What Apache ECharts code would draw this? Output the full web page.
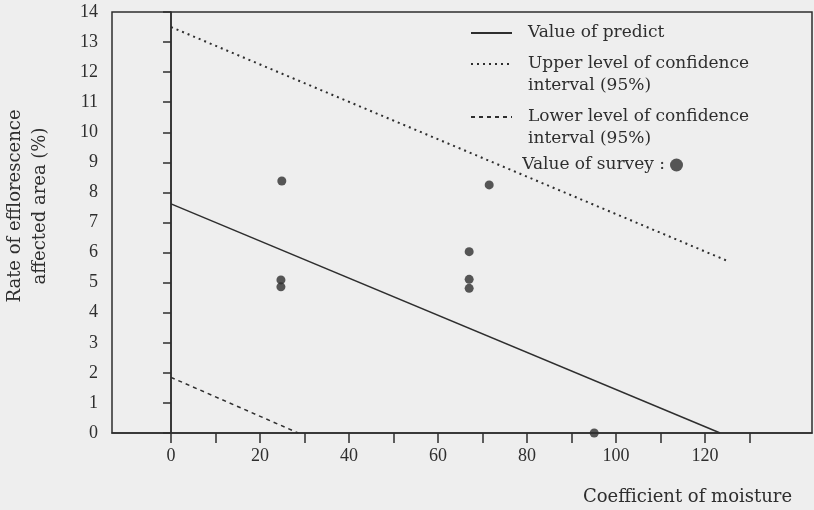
<!DOCTYPE html>
<html>
<head>
<meta charset="utf-8">
<script src="https://cdn.jsdelivr.net/npm/echarts@6/dist/echarts.min.js"></script>
<style>
  html, body { margin: 0; padding: 0; background: #eeeeee; }
  #chart { width: 814px; height: 510px; }
</style>
</head>
<body>
<div id="chart"></div>
<script>
// values
const predictLine = [[0, 7.62], [123.4, 0]];
const upperLine = [[0, 13.5], [125.4, 5.70]];
const lowerLine = [[0, 1.85], [28.6, 0]];
const surveyX = [24.9, 24.7, 24.7, 71.5, 67.0, 67.0, 67.0, 95.1];
const surveyY = [8.38, 5.09, 4.86, 8.25, 6.03, 5.11, 4.81, 0];
const xTickValues = [0, 10, 20, 30, 40, 50, 60, 70, 80, 90, 100, 110, 120, 130];
const xLabelValues = [0, 20, 40, 60, 80, 100, 120];

const ink = '#2e2e2e';
const serif = 'DejaVu Serif';

let myChart = echarts.init(document.getElementById('chart'));

// legend rows, one component each so every row sits where it does in the figure
function lineLegend(name, top) {
    let twoLines = name.indexOf('\n') >= 0
    return {
        data: [name],
        left: 470,
        top: top,
        padding: 0,
        orient: 'vertical',
        selectedMode: false,
        itemWidth: 41,
        itemHeight: 22,
        // hide the symbol drawn on the line icon
        itemStyle: { color: 'transparent', borderWidth: 0, opacity: 0 },
        // blank line on top so the icon lines up with the first text line
        formatter: function (n) { return twoLines ? '\n' + n : n },
        textStyle: {
            fontFamily: serif,
            fontSize: 17,
            color: ink,
            lineHeight: 22,
            padding: [0, 0, 0, 11]
        }
    }
}

let option = {
    backgroundColor: '#eeeeee',
    animation: false,
    grid: {
        left: 112, right: 2, top: 12, bottom: 77,
        show: true,
        borderColor: ink,
        borderWidth: 1.5,
        backgroundColor: 'transparent'
    },
    legend: [
        lineLegend('Value of predict', 22),
        lineLegend('Upper level of confidence\ninterval (95%)', 31),
        lineLegend('Lower level of confidence\ninterval (95%)', 84),
        {
            data: ['Value of survey :'],
            right: 131,
            top: 154,
            padding: 0,
            align: 'right',
            selectedMode: false,
            icon: 'circle',
            itemWidth: 13,
            itemHeight: 22,
            textStyle: { fontFamily: serif, fontSize: 17, color: ink, lineHeight: 22 }
        }
    ],
    xAxis: {
        type: 'value',
        min: -13.26,
        max: 144.04,
        splitLine: { show: false },
        axisLine: { onZero: false, lineStyle: { color: ink, width: 1.5 } },
        axisTick: {
            customValues: xTickValues,
            length: 10,
            lineStyle: { color: ink, width: 1.5 }
        },
        axisLabel: {
            customValues: xLabelValues,
            margin: 14,
            fontFamily: 'Liberation Serif',
            fontSize: 18,
            color: ink
        }
    },
    yAxis: {
        type: 'value',
        min: 0,
        max: 14,
        interval: 1,
        splitLine: { show: false },
        axisLine: { show: true, lineStyle: { color: ink, width: 1.5 } },
        axisTick: { length: 8, lineStyle: { color: ink, width: 1.5 } },
        axisLabel: {
            margin: 14,
            fontFamily: 'Liberation Serif',
            fontSize: 18,
            color: ink
        }
    },
    graphic: [
        {
            type: 'text',
            x: 28,
            y: 206,
            rotation: Math.PI / 2,
            style: {
                text: 'Rate of efflorescence\naffected area (%)',
                font: '18px "DejaVu Serif"',
                lineHeight: 25,
                fill: ink,
                align: 'center',
                verticalAlign: 'middle'
            }
        },
        {
            type: 'text',
            x: 583,
            y: 497,
            style: {
                text: 'Coefficient of moisture',
                font: '18px "DejaVu Serif"',
                fill: ink,
                align: 'left',
                verticalAlign: 'middle'
            }
        }
    ],
    series: [
        {
            name: 'Value of predict',
            type: 'line',
            data: predictLine,
            symbol: 'none',
            lineStyle: { color: ink, width: 1.5 },
            markLine: {
                silent: true,
                symbol: 'none',
                label: { show: false },
                lineStyle: { color: ink, width: 1.5, type: 'solid' },
                data: [{ xAxis: 0 }]
            }
        },
        {
            name: 'Upper level of confidence\ninterval (95%)',
            type: 'line',
            data: upperLine,
            symbol: 'none',
            lineStyle: { color: ink, width: 2, type: [2, 4] }
        },
        {
            name: 'Lower level of confidence\ninterval (95%)',
            type: 'line',
            data: lowerLine,
            symbol: 'none',
            lineStyle: { color: ink, width: 1.5, type: [4, 4] }
        },
        {
            name: 'Value of survey :',
            type: 'scatter',
            data: surveyX.map((x, i) => [x, surveyY[i]]),
            symbolSize: 9,
            itemStyle: { color: ink }
        }
    ]
};

myChart.setOption(option);
</script>
</body>
</html>
